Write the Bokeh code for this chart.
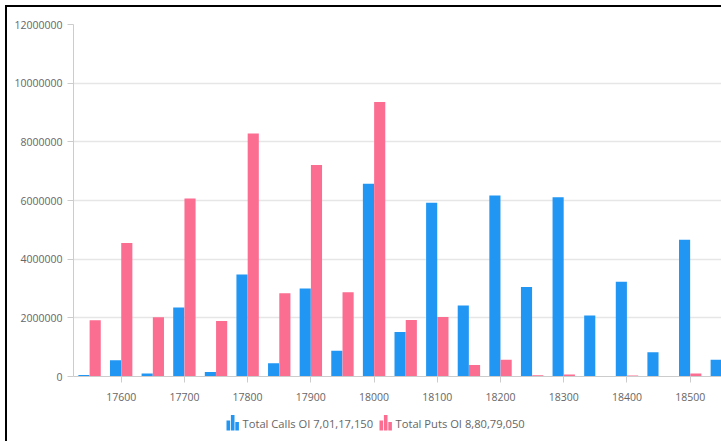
from bokeh.plotting import figure
from bokeh.layouts import column
from bokeh.models import ColumnDataSource, FixedTicker, NumeralTickFormatter, Range1d
from bokeh.core.properties import value
from bokeh.transform import dodge
from bokeh.embed import file_html
from bokeh.resources import INLINE

strikes = [17550, 17600, 17650, 17700, 17750, 17800, 17850, 17900, 17950, 18000,
           18050, 18100, 18150, 18200, 18250, 18300, 18350, 18400, 18450, 18500, 18550]
calls_oi = [50000, 550000, 100000, 2350000, 150000, 3480000, 450000, 3000000, 880000, 6570000,
            1520000, 5920000, 2420000, 6170000, 3050000, 6110000, 2080000, 3230000, 830000, 4660000, 570000]
puts_oi = [1920000, 4550000, 2020000, 6070000, 1890000, 8280000, 2840000, 7210000, 2870000, 9360000,
           1930000, 2030000, 390000, 570000, 40000, 70000, 10000, 30000, 10000, 100000, 20000]
x_ticks = [17600, 17700, 17800, 17900, 18000, 18100, 18200, 18300, 18400, 18500]
y_ticks = [0, 2000000, 4000000, 6000000, 8000000, 10000000, 12000000]
series_labels = ["Total Calls OI 7,01,17,150", "Total Puts OI 8,80,79,050"]

BLUE = "#2196F3"
PINK = "#FB6D91"
FONT = "Open Sans"
TXT = "#666666"

src = ColumnDataSource(dict(strike=strikes, calls=calls_oi, puts=puts_oi))

# ---------------- main chart ----------------
p = figure(width=714, height=397, output_backend="svg", toolbar_location=None,
           x_range=Range1d(17524.6, 18549.5), y_range=Range1d(0, 12000000),
           min_border_left=66, min_border_right=0, min_border_top=17, min_border_bottom=28)
p.outline_line_color = None
p.border_fill_color = "white"

p.vbar(x=dodge("strike", -8.9, range=p.x_range), top="calls", width=17.6, source=src,
       fill_color=BLUE, line_color=None)
p.vbar(x=dodge("strike", 8.9, range=p.x_range), top="puts", width=17.6, source=src,
       fill_color=PINK, line_color=None)

p.xgrid.grid_line_color = None
p.ygrid.grid_line_color = "#e6e6e6"
p.ygrid.grid_line_width = 1.5
p.ygrid.ticker = FixedTicker(ticks=y_ticks)

p.xaxis.ticker = FixedTicker(ticks=x_ticks)
p.yaxis.ticker = FixedTicker(ticks=y_ticks)
p.yaxis.formatter = NumeralTickFormatter(format="0")
for ax in (p.xaxis, p.yaxis):
    ax.axis_line_color = "#cccccc"
    ax.major_tick_line_color = "#cccccc"
    ax.major_tick_out = 6
    ax.major_tick_in = 0
    ax.minor_tick_line_color = None
    ax.major_label_text_font = FONT
    ax.major_label_text_font_size = "10.5px"
    ax.major_label_text_color = TXT
p.xaxis.major_label_standoff = 10
p.yaxis.major_label_standoff = 5

# ---------------- legend strip (frame aligned with the chart's frame, 1 unit = 1 px) ----------------
leg = figure(width=714, height=37, output_backend="svg", toolbar_location=None,
             x_range=Range1d(0, 648), y_range=Range1d(0, 37),
             min_border_left=66, min_border_right=0, min_border_top=0, min_border_bottom=0)
leg.axis.visible = False
leg.grid.visible = False
leg.outline_line_color = None
leg.border_fill_color = "white"
leg.background_fill_color = "white"

icon_left = [153, 306]
label_left = [169, 322]
colors = [BLUE, PINK]
bar_offsets = [1.8, 6.2, 10.6]
bar_tops = [21, 26.5, 19.5]
for il, ll, c, lab in zip(icon_left, label_left, colors, series_labels):
    leg.vbar(x=[il + o for o in bar_offsets], bottom=11, top=bar_tops, width=3.6,
             fill_color=c, line_color=None)
    leg.text(x=[ll], y=[18], text=[lab], text_font=value(FONT), text_font_size="11.2px",
             text_color=TXT, text_baseline="middle", text_align="left")

layout = column(p, leg, spacing=0,
                styles={"margin-left": "5px", "margin-top": "5px",
                        "border-top": "2px solid #000", "border-left": "2px solid #000"})

open("out.html", "w").write(file_html(layout, INLINE))
